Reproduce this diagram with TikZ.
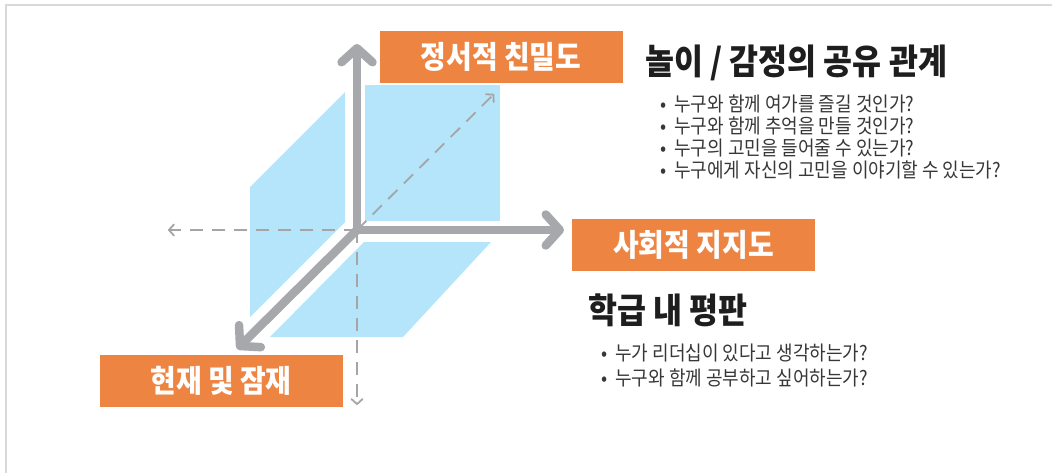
\documentclass[tikz,border=0pt]{standalone}
\usepackage{fontspec}
\setmainfont{Noto Sans CJK KR}[FakeStretch=0.9]
\usetikzlibrary{arrows.meta}
\definecolor{boxorange}{RGB}{238,132,66}
\definecolor{planeblue}{RGB}{180,229,250}
\definecolor{axisgrey}{RGB}{166,168,171}
\definecolor{dashgrey}{RGB}{165,165,165}
\definecolor{bordergrey}{RGB}{217,217,217}
\definecolor{titlecol}{RGB}{30,30,30}
\definecolor{itemcol}{RGB}{55,55,55}
\begin{document}
\begin{tikzpicture}[x=1pt,y=-1pt,
  orangebox/.style={fill=boxorange, text=white, minimum width=243pt, minimum height=52pt, inner sep=0pt, font=\fontsize{31}{34}\selectfont\bfseries},
  axis/.style={draw=axisgrey, line width=8.5pt, -{Straight Barb[length=14pt,width=31pt,round]}},
  guide/.style={draw=dashgrey, line width=1.8pt, dash pattern=on 13pt off 9pt, -{Straight Barb[length=5pt,width=11pt,round]}},
  plane/.style={fill=planeblue, draw=none},
  title/.style={anchor=base west, inner sep=0pt, text=titlecol, font=\fontsize{35}{38}\selectfont\bfseries},
  item/.style={anchor=base west, inner sep=0pt, text=itemcol, font=\fontsize{20}{24}\selectfont}]
\useasboundingbox (0,0) rectangle (1052,473);
\fill[white] (0,0) rectangle (1052,473);
\draw[bordergrey, line width=2pt] (6,473) -- (6,5) -- (1052,5);

% planes
\path[plane] (365,85) rectangle (500,221);
\path[plane] (250,187) -- (345,92) -- (345,222) -- (250,317) -- cycle;
\path[plane] (364,242) -- (491,242) -- (403,337) -- (270,337) -- cycle;

% coordinates
\coordinate (O) at (357,230);
\coordinate (up) at (357,44);
\coordinate (right) at (564,230);
\coordinate (diag) at (237,349);
\coordinate (left) at (168,230);
\coordinate (down) at (357,405);
\coordinate (back) at (494,94);

% dashed guides
\draw[guide] (O) -- (left);
\draw[guide] (O) -- (down);
\draw[guide] (O) -- (back);

% axes
\draw[axis] (O) -- (up);
\draw[axis] (O) -- (right);
\draw[axis] (O) -- (diag);

% boxes
\node[orangebox] (emo) at (501,57) {정서적 친밀도};
\node[orangebox] (soc) at (693.5,245) {사회적 지지도};
\node[orangebox] (cur) at (221,381) {현재 및 잠재};

% text
\node[title] (t1) at (645,75) {놀이 / 감정의 공유 관계};
\node[item] (a1) at (660,112) {•\hspace{8pt}누구와 함께 여가를 즐길 것인가?};
\node[item] (a2) at (660,134) {•\hspace{8pt}누구와 함께 추억을 만들 것인가?};
\node[item] (a3) at (660,156) {•\hspace{8pt}누구의 고민을 들어줄 수 있는가?};
\node[item] (a4) at (660,178) {•\hspace{8pt}누구에게 자신의 고민을 이야기할 수 있는가?};

\node[title] (t2) at (588,323) {학급 내 평판};
\node[item] (b1) at (601,360) {•\hspace{8pt}누가 리더십이 있다고 생각하는가?};
\node[item] (b2) at (601,385) {•\hspace{8pt}누구와 함께 공부하고 싶어하는가?};
\end{tikzpicture}
\end{document}
